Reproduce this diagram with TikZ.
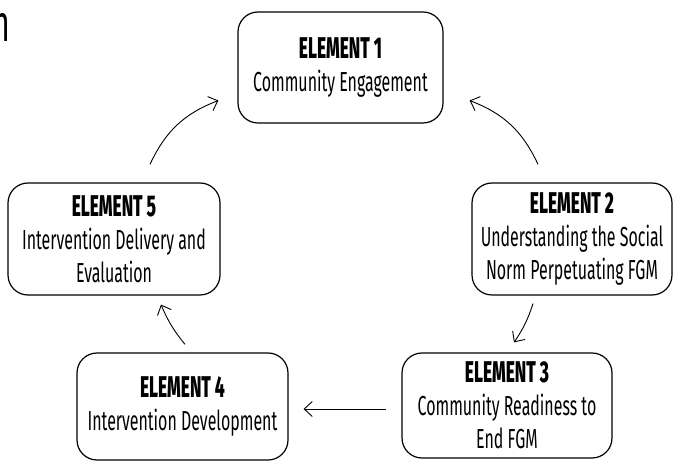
\documentclass[tikz,border=0pt]{standalone}
\usepackage{fontspec}
\setmainfont{Fira Sans}[FakeStretch=0.58, BoldFont=* ExtraBold]
\usetikzlibrary{arrows.meta}

\begin{document}
\begin{tikzpicture}[x=1pt,y=-1pt,
        element/.style={draw, rounded corners=20pt, line width=1.2pt, align=center,
                        font=\fontsize{27.5}{33}\selectfont, inner sep=0pt},
        flow/.style={-{Straight Barb[length=8pt,width=15pt]}, line width=0.9pt}]
        \useasboundingbox (0,0) rectangle (673,462);
        \clip (0,0) rectangle (673,462);

        % Elements
        \node[element, minimum width=205pt, minimum height=111pt] (E1) at (340.5,67.5)
            {{\fontsize{30}{33}\selectfont\bfseries ELEMENT 1}\\Community Engagement};
        \node[element, minimum width=200pt, minimum height=112pt] (E2) at (572,239)
            {{\fontsize{30}{33}\selectfont\bfseries ELEMENT 2}\\Understanding the Social\\Norm Perpetuating FGM};
        \node[element, minimum width=210pt, minimum height=105pt] (E3) at (507,405.5)
            {{\fontsize{30}{33}\selectfont\bfseries ELEMENT 3}\\Community Readiness to\\End FGM};
        \node[element, minimum width=211pt, minimum height=107pt] (E4) at (182.5,406.5)
            {{\fontsize{30}{33}\selectfont\bfseries ELEMENT 4}\\Intervention Development};
        \node[element, minimum width=212pt, minimum height=112pt] (E5) at (114,239)
            {{\fontsize{30}{33}\selectfont\bfseries ELEMENT 5}\\Intervention Delivery and\\Evaluation};

        % cut-off heading
        \node[anchor=base east, inner sep=0pt, font=\fontsize{52}{52}\selectfont] (head) at (10,42) {h};

        % Arrows
        \draw[flow] ([xshift=36pt,yshift=18pt]E5.north) to[bend left=22] ([xshift=-19pt,yshift=-33pt]E1.west);
        \draw[flow] ([xshift=-34pt,yshift=18pt]E2.north) to[bend right=22] ([xshift=26pt,yshift=-33pt]E1.east);
        \draw[flow] ([xshift=-39pt,yshift=-8pt]E2.south) to[bend left=8] ([xshift=7pt,yshift=10pt]E3.north);
        \draw[flow] ([xshift=-15pt,yshift=-3.5pt]E3.west) -- ([xshift=15pt,yshift=-2.5pt]E4.east);
        \draw[flow] ([xshift=2.5pt,yshift=8pt]E4.north) to[bend left=8] ([xshift=47pt,yshift=-9pt]E5.south);

    \end{tikzpicture}
\end{document}
